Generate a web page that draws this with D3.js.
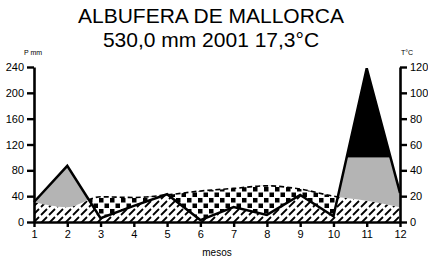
<!DOCTYPE html>
<html>
<head>
<meta charset="utf-8">
<script src="https://cdn.jsdelivr.net/npm/d3@7"></script>
<style>
  body { margin: 0; background: #fff; }
  svg { font-family: "Liberation Sans", Arial, sans-serif; }
</style>
</head>
<body>
<div id="chart"></div>
<script>
const months = [1, 2, 3, 4, 5, 6, 7, 8, 9, 10, 11, 12];
const precip = [31, 87, 6, 25, 43, 3, 23, 11, 42, 9, 238, 45];
const temp = [15.5, 11.5, 19.5, 19, 21, 24, 26, 28, 25.5, 20, 16.5, 11.5];
const pTicks = [0, 40, 80, 120, 160, 200, 240];
const tTicks = [0, 20, 40, 60, 80, 100, 120];
const title = "ALBUFERA DE MALLORCA";
const subtitle = "530,0 mm 2001 17,3°C";

const width = 428, height = 261;
const x = d3.scaleLinear([1, 12], [34, 400]);
const y = d3.scaleLinear([0, 240], [222, 67]);
const yT = d3.scaleLinear([0, 120], [222, 67]);

const svg = d3.select("#chart").append("svg")
  .attr("width", width).attr("height", height);

const defs = svg.append("defs");

defs.append("pattern")
  .attr("id", "hatch").attr("patternUnits", "userSpaceOnUse")
  .attr("width", 8).attr("height", 8)
  .append("path").attr("d", "M1,7 L7,1")
  .attr("stroke", "#000").attr("stroke-width", 1.8);

const chk = defs.append("pattern")
  .attr("id", "checks").attr("patternUnits", "userSpaceOnUse")
  .attr("width", 11).attr("height", 11);
chk.append("rect").attr("x", 0).attr("y", 0).attr("width", 4.5).attr("height", 4.5);
chk.append("rect").attr("x", 5.5).attr("y", 5.5).attr("width", 4.5).attr("height", 4.5);

const pArea = (top) => d3.area().x((d, i) => x(months[i]))
  .y0(top ? 0 : y(0)).y1(d => y(d));
const tArea = (top) => d3.area().x((d, i) => x(months[i]))
  .y0(top ? 0 : y(0)).y1(d => yT(d)).curve(d3.curveMonotoneX);

defs.append("clipPath").attr("id", "belowP").append("path").attr("d", pArea(false)(precip));
defs.append("clipPath").attr("id", "aboveP").append("path").attr("d", pArea(true)(precip));
defs.append("clipPath").attr("id", "aboveT").append("path").attr("d", tArea(true)(temp));
defs.append("clipPath").attr("id", "below100").append("rect")
  .attr("x", 0).attr("y", y(100)).attr("width", width).attr("height", y(0) - y(100));
defs.append("clipPath").attr("id", "above100").append("rect")
  .attr("x", 0).attr("y", 0).attr("width", width).attr("height", y(100));

// hatch: under min(P, T)
svg.append("g").attr("clip-path", "url(#belowP)")
  .append("path").attr("d", tArea(false)(temp)).attr("fill", "url(#hatch)");

// arid: between P and T where T > P
svg.append("g").attr("clip-path", "url(#aboveP)")
  .append("path").attr("d", tArea(false)(temp)).attr("fill", "url(#checks)");

// humid: between T and P, up to 100 mm
svg.append("g").attr("clip-path", "url(#below100)")
  .append("g").attr("clip-path", "url(#aboveT)")
  .append("path").attr("d", pArea(false)(precip)).attr("fill", "#b4b4b4");

// above 100 mm
svg.append("g").attr("clip-path", "url(#above100)")
  .append("path").attr("d", pArea(false)(precip)).attr("fill", "#000");

// temperature line, visible above the precipitation line
svg.append("g").attr("clip-path", "url(#aboveP)")
  .append("path")
  .attr("d", d3.line().x((d, i) => x(months[i])).y(d => yT(d)).curve(d3.curveMonotoneX)(temp))
  .attr("fill", "none").attr("stroke", "#000").attr("stroke-width", 1.6)
  .attr("stroke-dasharray", "5,3");

// precipitation line
svg.append("path")
  .attr("d", d3.line().x((d, i) => x(months[i])).y(d => y(d))(precip))
  .attr("fill", "none").attr("stroke", "#000").attr("stroke-width", 2.5)
  .attr("stroke-linejoin", "miter");

// axes
const styleAxis = g => {
  g.select(".domain").attr("stroke-width", 2.6);
  g.selectAll(".tick line").attr("stroke-width", 2.4);
  g.selectAll(".tick text").attr("font-size", 11).attr("fill", "#000");
};

svg.append("g").attr("transform", `translate(${x(1)},0)`)
  .call(d3.axisLeft(y).tickValues(pTicks).tickSize(7).tickPadding(3).tickSizeOuter(0))
  .call(styleAxis);

svg.append("g").attr("transform", `translate(${x(12)},0)`)
  .call(d3.axisRight(yT).tickValues(tTicks).tickSize(7).tickPadding(3).tickSizeOuter(0))
  .call(styleAxis);

svg.append("g").attr("transform", `translate(0,${y(0)})`)
  .call(d3.axisBottom(x).tickValues(months).tickFormat(d3.format("d")).tickSize(5).tickPadding(3).tickSizeOuter(0))
  .call(styleAxis);

// texts
svg.append("text").attr("x", 211).attr("y", 23).attr("text-anchor", "middle")
  .attr("font-size", 21).text(title);
svg.append("text").attr("x", 211).attr("y", 47).attr("text-anchor", "middle")
  .attr("font-size", 21).text(subtitle);
svg.append("text").attr("x", 33).attr("y", 55).attr("text-anchor", "middle")
  .attr("font-size", 7).text("P mm");
svg.append("text").attr("x", 407).attr("y", 55).attr("text-anchor", "middle")
  .attr("font-size", 7).text("T°C");
svg.append("text").attr("x", 217).attr("y", 256).attr("text-anchor", "middle")
  .attr("font-size", 10).text("mesos");
</script>
</body>
</html>
